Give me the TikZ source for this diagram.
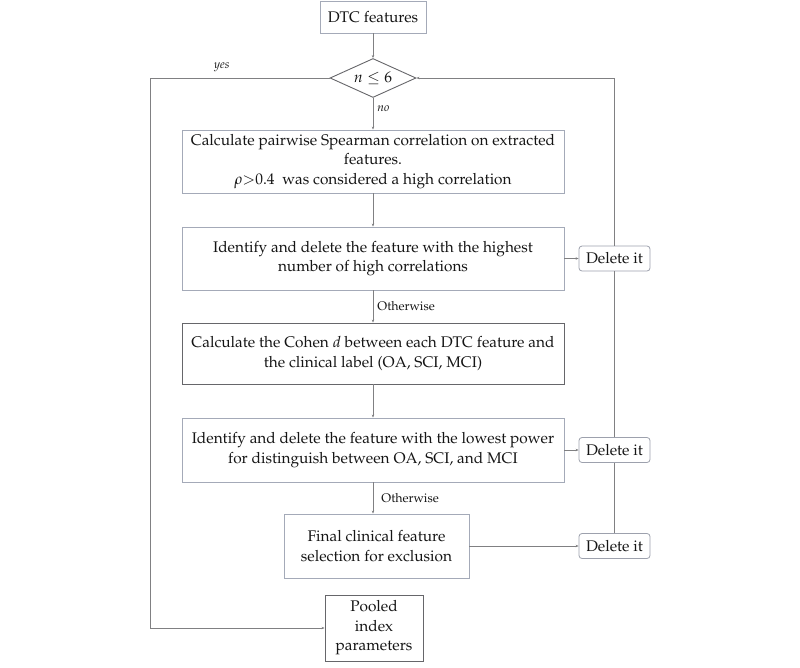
\documentclass[tikz,border=0pt]{standalone}
\usepackage[T1]{fontenc}
\usepackage{mathpazo}
\usetikzlibrary{shapes.geometric,arrows.meta}
\definecolor{edgelight}{HTML}{A4AAB8}
\definecolor{edgedark}{HTML}{66666A}
\definecolor{wire}{HTML}{808082}
\definecolor{ink}{HTML}{151515}
\begin{document}
\begin{tikzpicture}[x=1pt,y=-1pt,
  every node/.style={text=ink,inner sep=0pt,font=\fontsize{15.4}{19.5}\selectfont},
  procbox/.style={draw=edgelight,line width=0.9pt,fill=white,align=center},
  darkbox/.style={draw=edgedark,line width=0.9pt,fill=white,align=center},
  delbox/.style={draw=edgelight!80!gray,line width=0.8pt,rounded corners=3pt,fill=white,
    minimum width=71pt,minimum height=25pt},
  decision/.style={diamond,aspect=2.2,draw=edgedark,line width=0.9pt,fill=white,
    minimum width=86pt,minimum height=39pt},
  flow/.style={draw=wire,line width=0.9pt,-{Stealth[length=3pt,width=2.5pt]}},
  plain/.style={draw=wire,line width=0.9pt},
  tag/.style={font=\fontsize{12.5}{15}\selectfont},
  itag/.style={font=\fontsize{12}{15}\selectfont\itshape}]
\useasboundingbox (0,0) rectangle (800,667);

% main column
\node[procbox,minimum width=106pt,minimum height=32pt] (dtc) at (373,17) {DTC features};
\node[decision] (dia) at (373,78) {$n \le 6$};
\node[procbox,minimum width=382pt,minimum height=63pt] (b1) at (373,161.5)
  {Calculate pairwise Spearman correlation on extracted\\features.\\$\rho{>}0.4$\ \ was considered a high correlation};
\node[procbox,minimum width=382pt,minimum height=63pt] (b2) at (373,258.5)
  {Identify and delete the feature with the highest\\number of high correlations};
\node[darkbox,minimum width=382pt,minimum height=61pt] (b3) at (373,353.5)
  {Calculate the Cohen $d$ between each DTC feature and\\the clinical label (OA, SCI, MCI)};
\node[procbox,minimum width=382pt,minimum height=64pt] (b4) at (373,450)
  {Identify and delete the feature with the lowest power\\for distinguish between OA, SCI, and MCI};
\node[procbox,minimum width=185pt,minimum height=64pt] (b5) at (376.5,546)
  {Final clinical feature\\selection for exclusion};
\node[darkbox,minimum width=98pt,minimum height=66pt] (pool) at (374,628)
  {Pooled\\index\\parameters};

% deletion branch
\node[delbox] (d1) at (614.5,258.5) {Delete it};
\node[delbox] (d2) at (614.5,450) {Delete it};
\node[delbox] (d3) at (614.5,546) {Delete it};

% main flow
\draw[flow] (dtc.south) -- (dia.north);
\draw[flow] (dia.south) -- node[itag,pos=0.35,right=4pt] (lno) {no} (b1.north);
\draw[flow] (b1.south) -- (b2.north);
\draw[flow] (b2.south) -- node[tag,pos=0.5,right=4pt] (lo1) {Otherwise} (b3.north);
\draw[flow] (b3.south) -- (b4.north);
\draw[flow] (b4.south) -- node[tag,pos=0.5,right=8pt] (lo2) {Otherwise} (b4.south |- b5.north);

% exit when few features remain
\coordinate (yesturn) at (150,78);
\draw[flow] (dia.west) -- node[itag,pos=0.6,above=6pt] (lyes) {yes} (yesturn) |- (pool.west);

% deletions loop back to the test
\draw[flow] (b2.east) -- (d1.west);
\draw[flow] (b4.east) -- (d2.west);
\draw[flow] (b5.east) -- (d3.west);
\draw[plain] (d3.north) -- (d2.south);
\draw[plain] (d2.north) -- (d1.south);
\draw[flow] (d1.north) |- (dia.east);
\end{tikzpicture}
\end{document}
